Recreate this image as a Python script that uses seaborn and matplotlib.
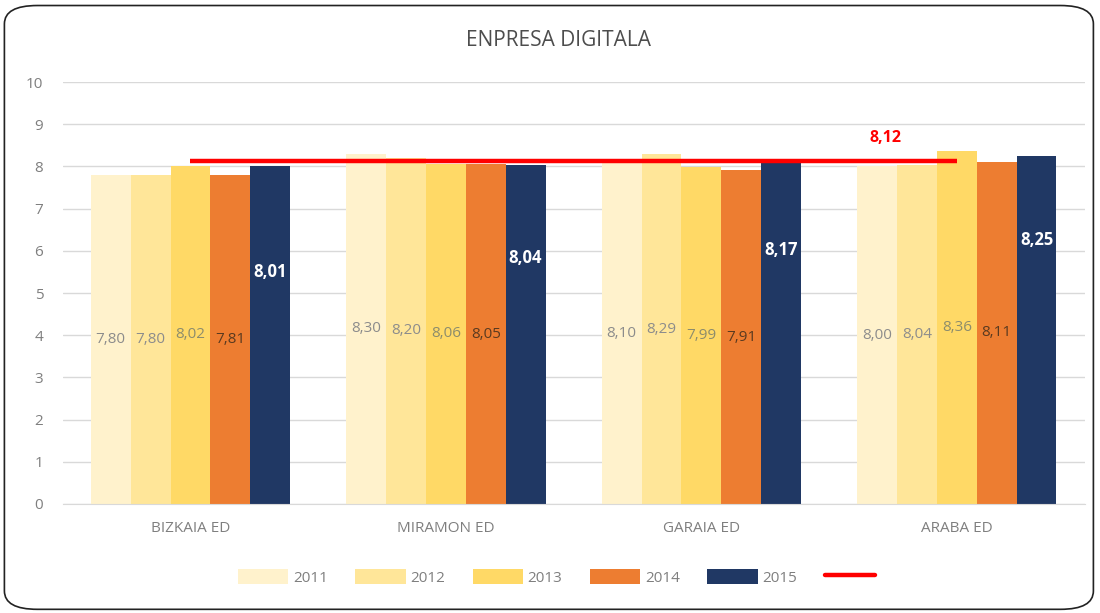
import matplotlib
matplotlib.use("Agg")
import matplotlib.pyplot as plt
from matplotlib.patches import FancyBboxPatch, Patch
from matplotlib.lines import Line2D
import seaborn as sns
import pandas as pd

# --- Datos ---
zonas = ["BIZKAIA ED", "MIRAMON ED", "GARAIA ED", "ARABA ED"]
years = ["2011", "2012", "2013", "2014", "2015"]
v2011 = [7.80, 8.30, 8.10, 8.00]
v2012 = [7.80, 8.20, 8.29, 8.04]
v2013 = [8.02, 8.06, 7.99, 8.36]
v2014 = [7.81, 8.05, 7.91, 8.11]
v2015 = [8.01, 8.04, 8.17, 8.25]
media = 8.12

colores = ["#FFF2CC", "#FFE699", "#FFD966", "#ED7D31", "#203864"]
label_colors = ["#8C8C8C", "#8C8C8C", "#8C8C6C", "#5A3A20", "white"]
label_y_2015 = [5.5, 5.83, 6.02, 6.26]

series = [v2011, v2012, v2013, v2014, v2015]
df = pd.DataFrame({
    "zona": [z for _ in years for z in zonas],
    "year": [y for y in years for _ in zonas],
    "valor": [v for s in series for v in s],
})

sns.set_style("white")
plt.rcParams["font.family"] = ["Open Sans", "DejaVu Sans"]

fig = plt.figure(figsize=(11, 6.13), dpi=100)
ax = fig.add_axes([0.057, 0.178, 0.929, 0.688])

sns.barplot(data=df, x="zona", y="valor", hue="year", palette=colores,
            width=0.78, saturation=1, gap=0, ax=ax, legend=False,
            edgecolor="none", linewidth=0)

ax.set_ylim(0, 10)
ax.set_xlim(-0.5, 3.5)
ax.set_yticks(range(0, 11))
ax.yaxis.grid(True, color="#D9D9D9", linewidth=1)
ax.set_axisbelow(True)
ax.set_xlabel("")
ax.set_ylabel("")
for s in ["top", "right", "left"]:
    ax.spines[s].set_visible(False)
ax.spines["bottom"].set_color("#D9D9D9")
ax.tick_params(axis="both", length=0, colors="#7F7F7F", labelsize=11)
ax.tick_params(axis="x", pad=12)
ax.tick_params(axis="y", pad=14)

# etiquetas de las barras
for i, cont in enumerate(ax.containers):
    vals = series[i]
    for j, bar in enumerate(cont):
        xc = bar.get_x() + bar.get_width() / 2
        txt = f"{vals[j]:.2f}".replace(".", ",")
        if i == 4:
            ax.text(xc, label_y_2015[j], txt, ha="center", va="center",
                    color="white", fontsize=12, fontweight="bold")
        else:
            ax.text(xc, vals[j] / 2, txt, ha="center", va="center",
                    color=label_colors[i], fontsize=11)

# linea de la media
ax.plot([0, 3], [media, media], color="#FF0000", linewidth=3.2, solid_capstyle="butt")
ax.text(2.72, media + 0.55, f"{media:.2f}".replace(".", ","), color="#FF0000",
        fontsize=11.5, fontweight="bold", ha="center", va="center")

fig.text(0.508, 0.934, "ENPRESA DIGITALA", fontsize=15, color="#4D4D4D",
         ha="center", va="center")

handles = [Patch(facecolor=c, edgecolor="none") for c in colores]
handles.append(Line2D([0], [0], color="#FF0000", linewidth=3.2))
leg = fig.legend(handles, years + [""], loc="center", bbox_to_anchor=(0.508, 0.058),
                 ncol=6, frameon=False, fontsize=11, handlelength=3.3,
                 handleheight=1.1, handletextpad=0.3, columnspacing=1.8)
for t in leg.get_texts():
    t.set_color("#7F7F7F")

# borde redondeado
borde = FancyBboxPatch((0.004, 0.006), 0.99, 0.985, transform=fig.transFigure,
                       boxstyle="round,pad=0,rounding_size=0.03",
                       facecolor="none", edgecolor="#222222", linewidth=1.2)
fig.patches.append(borde)

fig.savefig("out.png", dpi=100)
